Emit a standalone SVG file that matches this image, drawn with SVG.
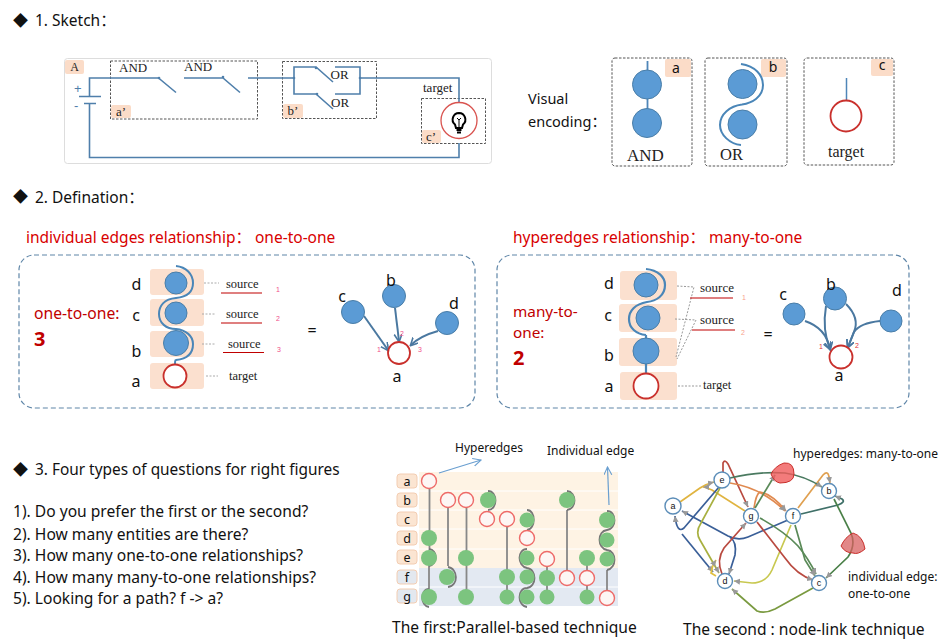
<svg xmlns="http://www.w3.org/2000/svg" width="946" height="644" viewBox="0 0 946 644">
<style>
text{font-family:"Noto Sans","Noto Sans CJK SC",sans-serif;fill:#111}
.s{font-family:"Liberation Serif",serif;fill:#222}
.red{fill:#c00000}
.hr{font-size:15.500px;fill:#d80000}
.h{font-size:15.500px}
.lab{font-size:16px;text-anchor:middle}
.tag{fill:#fbdcc8;stroke:none}
.row{fill:#fbe0cf;stroke:none}
.w{fill:none;stroke:#4f7fab;stroke-width:1.6}
.dash{fill:none;stroke:#555;stroke-width:1;stroke-dasharray:2.5 1.5}
.pan{fill:none;stroke:#5f86a8;stroke-width:1.2;stroke-dasharray:5 3}
.bn{fill:#5b9bd5;stroke:#4a7ea8;stroke-width:1}
.tn{fill:#fff;stroke:#c9302c;stroke-width:1.8}
.or{fill:none;stroke:#4a86b8;stroke-width:2}
.dot{fill:none;stroke:#aaa;stroke-width:1;stroke-dasharray:2 1.5}
.ul{stroke:#c00000;stroke-width:1.2}
.num{font-size:7px;fill:#f0508a;font-family:"Liberation Sans",sans-serif}
.e{fill:none;stroke:#4a78a0;stroke-width:2;marker-end:url(#ah)}
.ln{stroke:#888;stroke-width:1.8;fill:none}
.arc{stroke:#777;stroke-width:1.8;fill:none}
.g{fill:#7cc47f}
.t{fill:#fdf6f4;stroke:#ee6a68;stroke-width:1.4}
.rl{fill:#fbe5d2;stroke:#f3cdb2;stroke-width:1}
.rb{fill:#e3e8ef;stroke:#f3cdb2;stroke-width:1}
.n{fill:#fff;stroke:#5b8db8;stroke-width:1.4}
.nt{font-size:9px;text-anchor:middle;font-family:"Liberation Sans",sans-serif}
.k{fill:none;stroke-width:1.700;marker-end:url(#ag)}
.note{font-size:12px}
.q{font-size:15.600px}
.blue{fill:none;stroke:#6a9fd0;stroke-width:1.2;marker-end:url(#ab)}
</style>
<defs>
<marker id="ah" markerWidth="9" markerHeight="9" refX="7" refY="4" orient="auto" markerUnits="userSpaceOnUse"><path d="M0,0L8,4L0,8" fill="none" stroke="#4a78a0" stroke-width="1.6"/></marker>
<marker id="ag" markerWidth="7" markerHeight="7" refX="6" refY="3" orient="auto" markerUnits="userSpaceOnUse"><path d="M0,0L6,3L0,6Z" fill="#999"/></marker>
<marker id="ab" markerWidth="9" markerHeight="9" refX="8" refY="4" orient="auto" markerUnits="userSpaceOnUse"><path d="M0,0L8,4L0,8" fill="none" stroke="#6a9fd0" stroke-width="1.1"/></marker>
</defs>
<rect width="946" height="644" fill="#fff"/>

<g id="heading-1"><text x="13" y="26" style="font-size:15px">◆</text><text x="35" y="26" class="h">1. Sketch：</text></g>
<g id="heading-2"><text x="13" y="202" style="font-size:15px">◆</text><text x="35" y="203" class="h">2. Defination：</text></g>

<g id="circuit">
<rect x="64.500" y="58.500" width="427" height="105" rx="3" fill="#fff" stroke="#ddd"/>
<rect x="65" y="60" width="19" height="14" rx="2" class="tag"/><text x="74.500" y="71" class="s" font-size="12" text-anchor="middle">A</text>
<rect x="110.500" y="61" width="147" height="58" class="dash"/>
<rect x="282.500" y="61.500" width="94" height="57" class="dash"/>
<rect x="421.500" y="98.500" width="64" height="45" class="dash"/>
<rect x="111" y="105" width="20" height="13" rx="2" class="tag"/><text x="121" y="116" class="s" font-size="13" text-anchor="middle">a’</text>
<rect x="283" y="104" width="20" height="14" rx="2" class="tag"/><text x="293" y="115" class="s" font-size="13" text-anchor="middle">b’</text>
<rect x="422" y="130" width="19" height="13" rx="2" class="tag"/><text x="431" y="141" class="s" font-size="13" text-anchor="middle">c’</text>
<path class="w" d="M89.500,96V78H158.500L176,92.500M184,78H223L240,92.500M248,78H294M294,78V67H316L333,82M335,67H360V94H335M294,78V94H316L333,109M360,78H459V103M459,143V157.500H89.500V103"/>
<path d="M79,96.500H101M84,103.500H96" stroke="#4f7fab" stroke-width="1.6"/>
<text x="74" y="93" font-size="13" style="fill:#4f7fab;font-family:'Liberation Sans'">+</text>
<text x="74" y="110" style="fill:#4f7fab;font-family:'Liberation Sans'" font-size="13">-</text>
<circle cx="159" cy="78" r="1.300" fill="#4f7fab"/><circle cx="223" cy="77" r="1.300" fill="#4f7fab"/><circle cx="316" cy="68" r="1.300" fill="#4f7fab"/><circle cx="317" cy="94" r="1.300" fill="#4f7fab"/><circle cx="294" cy="78" r="1.300" fill="#4f7fab"/><circle cx="360" cy="78" r="1.300" fill="#4f7fab"/>
<text x="119" y="72" class="s" font-size="13">AND</text><text x="184" y="71" class="s" font-size="13">AND</text>
<text x="330.500" y="79" class="s" font-size="13">OR</text><text x="331" y="107" class="s" font-size="13">OR</text>
<text x="423" y="92" class="s" font-size="13">target</text>
<circle cx="459" cy="120.500" r="18" fill="#fff" stroke="#d9534f" stroke-width="1.3"/>
<path d="M459,113a6.500,6.500 0 0 0-4,11.500l1,3.500h6l1-3.500a6.500,6.500 0 0 0-4-11.500z" fill="none" stroke="#000" stroke-width="2"/>
<path d="M456.500,130h5M457,132.500h4" stroke="#000" stroke-width="2"/>
<path d="M459,127v-7l-2-2M459,120l2-2" fill="none" stroke="#000" stroke-width="1"/>
</g>

<g id="visual-encoding"><text x="528" y="104" font-size="14.500">Visual</text><text x="528" y="127" font-size="14.500">encoding：</text></g>
<g id="enc-a">
<rect x="612" y="58" width="80" height="108" rx="3" class="dash"/>
<rect x="665" y="59" width="26" height="18" rx="2" class="tag"/><text x="676" y="73" font-size="14" text-anchor="middle">a</text>
<path d="M647.500,61V137" stroke="#4f86b8" stroke-width="1.800"/>
<circle cx="647" cy="84.500" r="14.500" class="bn"/><circle cx="647" cy="123" r="14.500" class="bn"/>
<text x="627" y="161" class="s" font-size="17">AND</text>
</g>
<g id="enc-b">
<rect x="705" y="58" width="82" height="108" rx="3" class="dash"/>
<rect x="761" y="59" width="25" height="18" rx="2" class="tag"/><text x="773" y="72" font-size="14" text-anchor="middle">b</text>
<path class="or" d="M741,64C755,66 763,75 763,85C763,97 752,103 742,104.500C730,106 720,114 720,125C720,135 730,144 741,145"/>
<circle cx="742.500" cy="84" r="14.500" class="bn"/><circle cx="742.500" cy="124.500" r="14.500" class="bn"/>
<text x="720" y="160" class="s" font-size="16.500">OR</text>
</g>
<g id="enc-c">
<rect x="804" y="58" width="90" height="107" rx="3" class="dash"/>
<rect x="871" y="59" width="22" height="17" rx="2" class="tag"/><text x="882" y="70" font-size="14" text-anchor="middle">c</text>
<path d="M846.500,78V101" stroke="#4f86b8" stroke-width="1.500"/>
<circle cx="846" cy="116" r="15.500" fill="#fff" stroke="#c9302c" stroke-width="1.800"/>
<text x="828" y="157" class="s" font-size="16">target</text>
</g>

<text x="26" y="243" class="hr">individual edges relationship： one-to-one</text>
<text x="513" y="243" class="hr">hyperedges relationship： many-to-one</text>

<g id="panel-one-to-one">
<rect x="19" y="255" width="456" height="153" rx="15" class="pan"/>
<text x="34" y="319" class="red" font-size="15.700">one-to-one:</text>
<text x="34" y="346" class="red" font-size="20" font-weight="bold">3</text>
<rect x="150" y="269" width="54" height="26" rx="3" class="row"/><rect x="150" y="299" width="54" height="27" rx="3" class="row"/><rect x="150" y="331" width="54" height="26" rx="3" class="row"/><rect x="150" y="363" width="54" height="26" rx="3" class="row"/>
<path class="or" d="M176,266C186,267 193,274 193,283C193,293 186,297 176,298C164,299 159,306 159,314C159,323 166,329 176,329C186,330 193,336 193,344C193,354 186,359 176,360C175,360 175,362 175,366"/>
<circle cx="176" cy="283" r="11" class="bn"/><circle cx="176" cy="313" r="11" class="bn"/><circle cx="176" cy="343" r="12.500" class="bn"/><circle cx="175" cy="376" r="11.500" class="tn"/>
<text x="136.500" y="290" class="lab">d</text><text x="136" y="321" class="lab">c</text><text x="136.500" y="357" class="lab">b</text><text x="136" y="387" class="lab">a</text>
<path class="dot" d="M204,283H219M202,314H216M202,344H215M206,376H218"/>
<text x="226" y="288" class="s" font-size="12.500">source</text><text x="226" y="318" class="s" font-size="12.500">source</text><text x="228" y="348" class="s" font-size="12.500">source</text><text x="229" y="380" class="s" font-size="12.500">target</text>
<path class="ul" d="M221,293H262M221,323H262M223,352.500H264"/>
<text x="276" y="292" class="num">1</text><text x="276" y="321" class="num">2</text><text x="277" y="352" class="num">3</text>
<text x="312" y="336" class="lab">=</text>
<g><path class="e" d="M364,316L388,350"/><path class="e" d="M395,308L399,341"/><path class="e" d="M438,331Q420,336 411,345"/>
<circle cx="353" cy="312" r="11.500" class="bn"/><circle cx="394" cy="296" r="11.500" class="bn"/><circle cx="447" cy="323" r="11.500" class="bn"/><circle cx="399" cy="353" r="11" class="tn"/>
<text x="342" y="302" class="lab">c</text><text x="391" y="286" class="lab">b</text><text x="454" y="309" class="lab">d</text><text x="397" y="382" class="lab">a</text>
<text x="377" y="352" class="num">1</text><text x="400" y="336" class="num">2</text><text x="418" y="352" class="num">3</text></g>
</g>

<g id="panel-many-to-one">
<rect x="497" y="255" width="412" height="153" rx="15" class="pan"/>
<text x="513" y="317" class="red" font-size="15.300">many-to-</text><text x="513" y="338" class="red" font-size="15.300">one:</text>
<text x="513" y="365" class="red" font-size="20" font-weight="bold">2</text>
<rect x="620" y="271" width="57" height="29" rx="3" class="row"/><rect x="619" y="304" width="58" height="28" rx="3" class="row"/><rect x="619" y="338" width="58" height="28" rx="3" class="row"/><rect x="620" y="372" width="57" height="28" rx="3" class="row"/>
<path class="or" d="M646,269C658,270 665,277 665,285C665,296 656,301 647,302C635,304 629,311 629,319C629,328 636,334 646,335M646,335V375" style="stroke-width:2.200"/>
<circle cx="646" cy="285" r="12" class="bn"/><circle cx="648" cy="318" r="12" class="bn"/><circle cx="646" cy="351" r="13" class="bn"/><circle cx="646" cy="386" r="12.500" class="tn"/>
<text x="609" y="289" class="lab">d</text><text x="608" y="321" class="lab">c</text><text x="609" y="361" class="lab">b</text><text x="609" y="392" class="lab">a</text>
<path class="dot" style="stroke:#999" d="M677,286L694,287L676,357M675,319L696,320L677,359M678,386H702"/>
<text x="700" y="292" class="s" font-size="13">source</text><text x="700" y="324" class="s" font-size="13">source</text><text x="703" y="389" class="s" font-size="12.500">target</text>
<path class="ul" d="M690,298H733M692,330H735"/>
<text x="742" y="300" class="num" style="fill:#f8a08a">1</text><text x="741" y="335" class="num" style="fill:#f8a08a">2</text>
<text x="768" y="340" class="lab">=</text>
<path class="e" d="M805,321Q826,328 830,349"/><path class="e" d="M826,306Q822,330 830,349"/><path class="e" d="M846,304Q860,318 854,332L848,347"/><path class="e" d="M880,321Q860,323 854,332L848,347"/>
<circle cx="794" cy="314" r="11" class="bn"/><circle cx="835" cy="298.500" r="11.500" class="bn"/><circle cx="891" cy="321" r="11" class="bn"/><circle cx="841" cy="357" r="11.500" class="tn"/>
<text x="783" y="300" class="lab">c</text><text x="831" y="290" class="lab">b</text><text x="897" y="296" class="lab">d</text><text x="839" y="381" class="lab">a</text>
<text x="819" y="349" class="num" style="fill:#e03030">1</text><text x="855" y="348" class="num" style="fill:#e03030">2</text>
</g>

<g id="questions">
<text x="13" y="475" font-size="15">◆</text><text x="35" y="475" class="q" style="font-size:15.400px">3. Four types of questions for right figures</text>
<text x="13" y="517" class="q">1). Do you prefer the first or the second?</text>
<text x="13" y="540" class="q">2). How many entities are there?</text>
<text x="13" y="561" class="q">3). How many one-to-one relationships?</text>
<text x="13" y="583" class="q">4). How many many-to-one relationships?</text>
<text x="13" y="604" class="q">5). Looking for a path? f -&gt; a?</text>
</g>

<g id="parallel">
<rect x="419" y="472" width="199" height="96" fill="#fef3e4"/><rect x="419" y="568" width="199" height="38" fill="#e3e9f2"/>
<path d="M419,491H618M419,510H618M419,529H618M419,549H618M419,587H618" stroke="#fff" stroke-width="1"/>
<g font-size="12.500">
<rect x="397" y="474" width="20" height="14" rx="3" class="rl"/><rect x="397" y="493" width="20" height="14" rx="3" class="rl"/><rect x="397" y="512" width="20" height="14" rx="3" class="rl"/><rect x="397" y="531" width="20" height="14" rx="3" class="rl"/><rect x="397" y="550" width="20" height="14" rx="3" class="rl"/><rect x="397" y="570" width="20" height="14" rx="3" class="rb"/><rect x="397" y="589" width="20" height="14" rx="3" class="rb"/>
<text x="407" y="486" text-anchor="middle">a</text><text x="407" y="505" text-anchor="middle">b</text><text x="407" y="524" text-anchor="middle">c</text><text x="407" y="543" text-anchor="middle">d</text><text x="407" y="562" text-anchor="middle">e</text><text x="407" y="582" text-anchor="middle">f</text><text x="407" y="601" text-anchor="middle">g</text>
</g>
<path class="ln" d="M429.500,481V550M429,565V590M448,500V566M466.500,500V597M507,519V597M527,530V540M547,559V597M567,510V578M587,557V597M607,570V590M527,551V555"/>
<path class="arc" d="M429,549C438,550 438,564 429,566M448,567C458,568 459,586 448,587M429,589C420,589 420,606 429,607M488,491C498,491 498,510 488,510M527,510C536,510 536,529 527,530M527,549C517,549 517,566 527,568C537,569 537,587 527,588C517,588 517,606 527,607M567,491C577,492 577,509 567,510M607,511C617,511 617,529 607,530C597,531 597,548 607,550C617,551 617,568 607,570"/>
<g class="g">
<circle cx="429" cy="538" r="8"/><circle cx="429" cy="558" r="8"/><circle cx="429" cy="597" r="8"/><circle cx="447" cy="577" r="8"/><circle cx="466" cy="558" r="8"/><circle cx="466" cy="597" r="8"/><circle cx="488" cy="500" r="8"/><circle cx="507" cy="577" r="8"/><circle cx="507" cy="597" r="7.500"/><circle cx="527" cy="520" r="7.500"/><circle cx="527" cy="558" r="7.500"/><circle cx="527" cy="577" r="7.500"/><circle cx="527" cy="597" r="7.500"/><circle cx="547" cy="578" r="8"/><circle cx="547" cy="597" r="7.500"/><circle cx="567" cy="500" r="8"/><circle cx="587" cy="558" r="8"/><circle cx="587" cy="597" r="7.500"/><circle cx="607" cy="520" r="8"/><circle cx="607" cy="540" r="7.500"/><circle cx="607" cy="559" r="7.500"/>
</g>
<g class="t">
<circle cx="429" cy="481" r="7.500"/><circle cx="448" cy="500" r="7.500"/><circle cx="466" cy="500" r="7.500"/><circle cx="487" cy="519" r="7.500"/><circle cx="507" cy="519" r="7.500"/><circle cx="527" cy="538" r="7.500"/><circle cx="547" cy="559" r="7.500"/><circle cx="567" cy="578" r="7.500"/><circle cx="587" cy="578" r="7.500"/><circle cx="607" cy="598" r="7.500"/>
</g>
<text x="455" y="452" class="note">Hyperedges</text><text x="547" y="455" class="note">Individual edge</text>
<path class="blue" d="M439,473L481,460"/><path class="blue" d="M609,505L607.500,467"/>
<text x="392" y="633" class="q">The first:Parallel-based technique</text>
</g>

<g id="node-link">
<g id="connectors">
<path class="k" stroke="#e0b440" d="M680,502L700,488Q706,484 714,482"/>
<path class="k" stroke="#e0b440" d="M745,511L712,490Q705,487 703,487"/>
<path class="k" stroke="#3a5f98" d="M719,487L684,528Q677,534 675,516"/>
<path class="k" stroke="#3a5f98" d="M788,520L748,537Q738,541 728,536L682,511"/>
<path class="k" stroke="#3a5f98" d="M682,534L713,572"/>
<path class="k" stroke="#3a5f98" d="M730,537Q737,542 735,555L729,574"/>
<path class="k" stroke="#a8b040" d="M720,488L701,523Q695,532 700,540L719,573"/>
<path class="k" stroke="#b94a40" d="M722,574Q716,560 724,548L746,523"/>
<path class="k" stroke="#e0c040" d="M716,576L711,573Q712,566 716,560"/>
<path class="k" stroke="#c8c850" d="M791,525L772,570Q766,583 752,583L734,581"/>
<path class="k" stroke="#b94a40" d="M757,522L785,558Q797,575 813,580"/>
<path class="k" stroke="#5a8a58" d="M760,518Q785,532 798,546Q808,558 816,574"/>
<path class="k" stroke="#5a8a58" d="M795,525L805,560L815,576"/>
<path class="k" stroke="#7a9a40" d="M813,588L775,609Q765,614 757,611L732,589"/>
<path class="k" stroke="#b94a40" d="M723,472V463Q725,459 728,464L748,507"/>
<path class="k" stroke="#e08a50" d="M730,483Q762,488 785,511"/>
<path class="k" stroke="#e08a50" d="M754,508Q756,494 760,492Q772,494 786,511"/>
<path class="k" stroke="#5a8a58" d="M755,508L775,475"/>
<path class="k" stroke="#e0a050" d="M798,508L823,475Q828,470 829,477L830,483"/>
<path class="k" stroke="#4a7a60" d="M730,478Q760,471 785,473Q805,476 822,487"/>
<path class="k" stroke="#3f7068" d="M801,514L838,505Q846,502 842,499L835,496"/>
<path class="k" stroke="#4a8048" d="M834,499L851,533Q856,545 848,557L826,578"/>
</g>
<path d="M771,474Q775,466 784,463Q794,462 794,474Q794,483 780,483Q774,482 771,474Z" fill="#f05a5a" fill-opacity=".8" stroke="#c9302c"/>
<path d="M841,546Q845,537 853,533Q863,536 865,549Q858,555 853,553Q845,553 841,546Z" fill="#d86060" fill-opacity=".75" stroke="#c9302c"/>
<g id="n-a"><circle cx="673" cy="506" r="8" class="n"/><text x="673" y="509" class="nt">a</text></g>
<g id="n-e"><circle cx="722" cy="480" r="8" class="n"/><text x="722" y="483" class="nt">e</text></g>
<g id="n-b"><circle cx="829" cy="491" r="7.500" class="n"/><text x="829" y="494" class="nt">b</text></g>
<g id="n-g"><circle cx="751" cy="516" r="7.500" class="n"/><text x="751" y="519" class="nt">g</text></g>
<g id="n-f"><circle cx="793" cy="516" r="7.500" class="n"/><text x="793" y="519" class="nt">f</text></g>
<g id="n-d"><circle cx="725" cy="581" r="7.500" class="n"/><text x="725" y="584" class="nt">d</text></g>
<g id="n-c"><circle cx="819" cy="583" r="7.500" class="n"/><text x="819" y="586" class="nt">c</text></g>
<text x="793" y="458" class="note">hyperedges: many-to-one</text>
<text x="848" y="581" class="note">individual edge:</text><text x="848" y="598" class="note">one-to-one</text>
<text x="683" y="635" class="q">The second : node-link technique</text>
</g>
</svg>
